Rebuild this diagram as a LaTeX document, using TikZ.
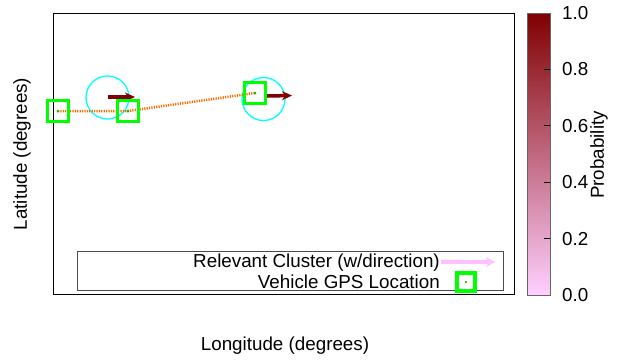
\documentclass[tikz,border=0pt]{standalone}
\usepackage{fontspec}
\setmainfont{Liberation Sans}
\usetikzlibrary{arrows.meta}
\definecolor{color_gps_box}{HTML}{00FF00}
\definecolor{color_gps_dot}{HTML}{22B000}
\definecolor{color_cluster_ring}{HTML}{00FFFF}
\definecolor{color_prob_high}{HTML}{800000}
\definecolor{color_prob_low}{HTML}{FFD0FF}
\definecolor{color_track}{HTML}{FF6A00}
\definecolor{color_legend_arrow}{HTML}{FFC0FF}

\begin{document}
\begin{tikzpicture}[x=1pt, y=-1pt, font=\fontsize{18.8}{22}\selectfont,
    gpsbox/.style={draw=color_gps_box, line width=3.3pt, minimum size=21.5pt, inner sep=0pt},
    gpsdot/.style={circle, fill=color_gps_dot, minimum size=3pt, inner sep=0pt},
    clusterring/.style={circle, draw=color_cluster_ring, line width=1.3pt, minimum size=43pt, inner sep=0pt},
    headingarrow/.style={draw=color_prob_high, line width=3.5pt, -{Stealth[length=10pt, width=9pt]}},
    tracklink/.style={draw=color_track, line width=2.5pt, dash pattern=on 1.2pt off 1.2pt},
    ticklabel/.style={anchor=west, inner sep=0pt}]
            \useasboundingbox (0,0) rectangle (623,360);
            % plot frame
            \draw[black, line width=1pt] (53,13) rectangle (514,294);
            % cluster rings
            \node[clusterring] (clu1) at (107.5,97.5) {};
            \node[clusterring] (clu2) at (263.5,99) {};
            % vehicle track
            \coordinate (trk1) at (58,111);
            \coordinate (trk2) at (128,111);
            \coordinate (trk3) at (255,93);
            \draw[tracklink] (trk1) -- (trk2) -- (trk3);
            % cluster headings
            \coordinate (hd1s) at (108,97);
            \coordinate (hd1e) at (135,97);
            \coordinate (hd2s) at (267,96);
            \coordinate (hd2e) at (292,95.5);
            \draw[headingarrow] (hd1s) -- (hd1e);
            \draw[headingarrow] (hd2s) -- (hd2e);
            % gps fixes
            \node[gpsbox] (gps1) at (trk1) {};
            \node[gpsbox] (gps2) at (trk2) {};
            \node[gpsbox] (gps3) at (trk3) {};
            \node[gpsdot] at (gps1.center) {};
            \node[gpsdot] at (gps2.center) {};
            \node[gpsdot] at (gps3.center) {};
            % legend
            \draw[black!70, line width=0.8pt] (77,251) rectangle (503,290);
            \node[anchor=east, inner sep=0pt] (lgcl) at (440,262.5) {Relevant Cluster (w/direction)};
            \node[anchor=east, inner sep=0pt] (lggps) at (440,281.5) {Vehicle GPS Location};
            \coordinate (lgas) at (441,262);
            \coordinate (lgae) at (495,262);
            \draw[draw=color_legend_arrow, line width=4pt, -{Stealth[length=9pt, width=10pt]}] (lgas) -- (lgae);
            \node[gpsbox, minimum size=18pt] (lgbox) at (466,282) {};
            \node[gpsdot, minimum size=2.5pt] at (lgbox.center) {};
            % colour bar
            \shade[bottom color=color_prob_low, top color=color_prob_high] (527,13) rectangle (550,295);
            \draw[black!60, line width=0.8pt] (527,13) rectangle (550,295);
            \foreach \v in {0.2,0.4,0.6,0.8}
                \draw[black, line width=1pt] (544,295-282*\v) -- (550,295-282*\v);
            \foreach \v in {0.0,0.2,0.4,0.6,0.8,1.0}
                \node[ticklabel] at (562,295-282*\v) {\v};
            \node[rotate=90] (cblabel) at (599,155) {Probability};
            % axis titles
            \node[rotate=90] (ylabel) at (22,154) {Latitude (degrees)};
            \node (xlabel) at (285,346) {Longitude (degrees)};
\end{tikzpicture}
\end{document}
